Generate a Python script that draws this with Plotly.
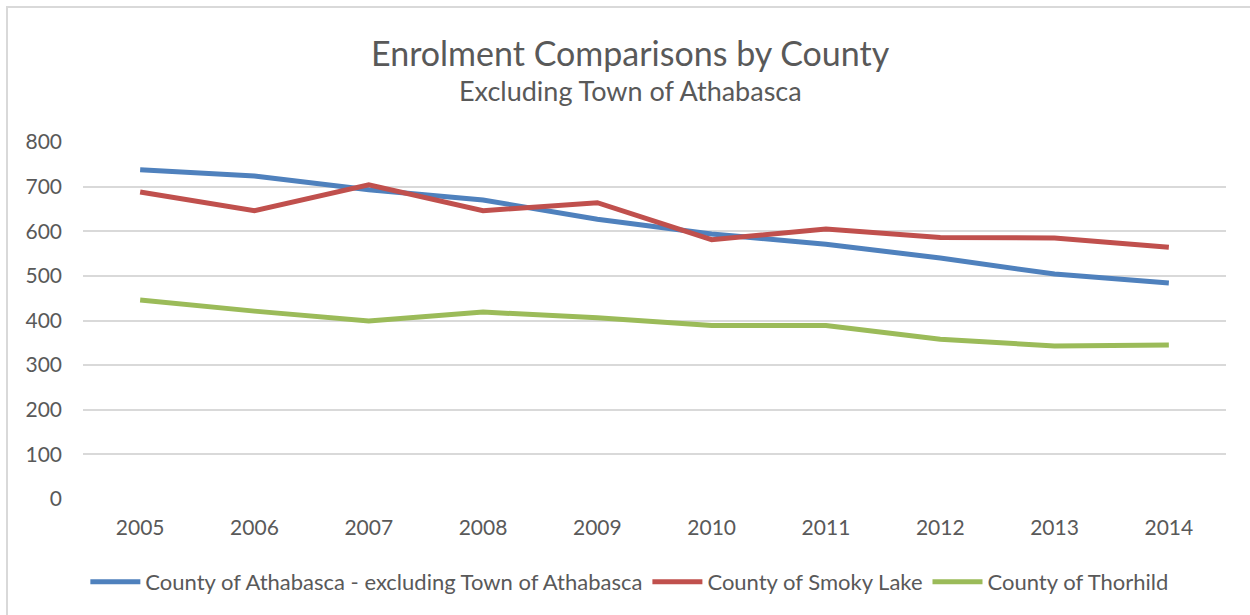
import plotly.graph_objects as go

# Enrolment by county, 2005-2014
years = ["2005", "2006", "2007", "2008", "2009", "2010", "2011", "2012", "2013", "2014"]
athabasca = [738, 724, 693, 670, 627, 594, 571, 540, 504, 484]
smoky_lake = [688, 646, 704, 646, 664, 581, 605, 586, 585, 564]
thorhild = [446, 421, 399, 419, 406, 389, 389, 358, 343, 345]

series_names = [
    "County of Athabasca - excluding Town of Athabasca",
    "County of Smoky Lake",
    "County of Thorhild",
]
series_colors = ["#4F81BD", "#C0504D", "#9BBB59"]
y_ticks = [0, 100, 200, 300, 400, 500, 600, 700, 800]

FONT = "Lato"
TEXT = "#595959"
GRID = "#D9D9D9"

fig = go.Figure()
for name, values, color in zip(series_names, [athabasca, smoky_lake, thorhild], series_colors):
    fig.add_trace(go.Scatter(
        x=years, y=values, name=name, mode="lines",
        line=dict(color=color, width=5),
    ))

fig.update_layout(
    width=1250, height=615,
    margin=dict(l=83, r=24, t=142, b=116),
    paper_bgcolor="white", plot_bgcolor="white",
    font=dict(family=FONT, color=TEXT),
    showlegend=True,
    legend=dict(
        orientation="h", x=0.478, xanchor="center", y=-0.2325, yanchor="middle",
        font=dict(size=22, color=TEXT), itemwidth=50, traceorder="normal",
        bgcolor="rgba(0,0,0,0)",
    ),
    xaxis=dict(
        type="category", range=[-0.5, len(years) - 0.5],
        showgrid=False, zeroline=False, showline=False,
        tickfont=dict(size=21, color=TEXT), ticks="", ticklabelstandoff=14,
    ),
    yaxis=dict(
        range=[0, 800], tickvals=y_ticks, showgrid=True, gridcolor=GRID, gridwidth=1.5,
        zeroline=False, showline=False, tickfont=dict(size=21, color=TEXT),
        ticks="", ticklabelstandoff=20,
    ),
    annotations=[
        dict(text="Enrolment Comparisons by County", xref="paper", yref="paper",
             x=0.4786, y=1.252, xanchor="center", yanchor="middle", showarrow=False,
             font=dict(size=34, color=TEXT, family=FONT)),
        dict(text="Excluding Town of Athabasca", xref="paper", yref="paper",
             x=0.4786, y=1.143, xanchor="center", yanchor="middle", showarrow=False,
             font=dict(size=27, color=TEXT, family=FONT)),
    ],
    shapes=[
        dict(type="rect", xref="paper", yref="paper",
             x0=(7 - 83) / 1143, x1=(1262 - 83) / 1143,
             y0=(499 - 630) / 357, y1=(499 - 7) / 357,
             line=dict(color=GRID, width=2), fillcolor="rgba(0,0,0,0)", layer="below"),
    ],
    hovermode=False,
)

fig.write_html("out.html")
